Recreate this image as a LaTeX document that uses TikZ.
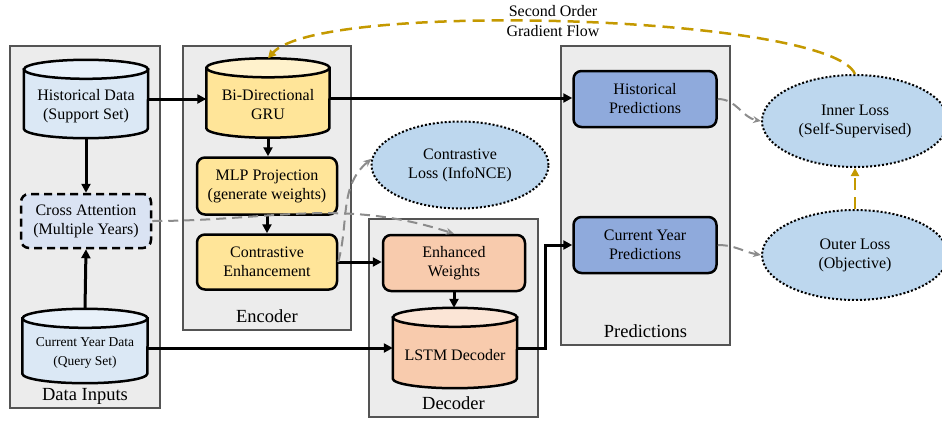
\documentclass[tikz,border=0pt]{standalone}
\usepackage{fontspec}
\setmainfont{Liberation Serif}
\usetikzlibrary{shapes.geometric,arrows.meta}
\definecolor{grpfill}{rgb}{0.925,0.925,0.925}
\definecolor{grpline}{rgb}{0.33,0.33,0.33}
\definecolor{histbody}{rgb}{0.86,0.91,0.96}
\definecolor{histtop}{rgb}{0.91,0.945,0.98}
\definecolor{crossfill}{rgb}{0.855,0.89,0.953}
\definecolor{encbody}{rgb}{1,0.9,0.6}
\definecolor{enctop}{rgb}{1,0.95,0.8}
\definecolor{decbody}{rgb}{0.973,0.796,0.678}
\definecolor{dectop}{rgb}{0.984,0.898,0.839}
\definecolor{predfill}{rgb}{0.561,0.667,0.863}
\definecolor{lossfill}{rgb}{0.741,0.843,0.933}
\definecolor{gradgold}{rgb}{0.77,0.6,0.0}
\definecolor{auxgray}{rgb}{0.55,0.55,0.55}

\begin{document}
\begin{tikzpicture}[x=1pt,y=-1pt]
  \newcommand{\txtsize}[0]{\fontsize{16}{19}\selectfont}
  \newcommand{\smallsize}[0]{\fontsize{13.5}{17}\selectfont}
  \tikzstyle{grpbox} = [draw=grpline,fill=grpfill,line width=2pt,inner sep=0pt]
  \tikzstyle{grplbl} = [font=\fontsize{18.5}{22}\selectfont,anchor=base]
  \tikzstyle{cylbox} = [rectangle,inner sep=0pt]
  \tikzstyle{cylline} = [draw=black,line width=2.5pt]
  \tikzstyle{cyltext} = [align=center,font=\txtsize,inner sep=0pt]
  \tikzstyle{procbox} = [rectangle,rounded corners=8pt,draw=black,line width=2.5pt,align=center,font=\txtsize,minimum width=141pt,minimum height=56pt,inner sep=0pt]
  \tikzstyle{lossell} = [ellipse,draw=black,dotted,line width=2pt,fill=lossfill,align=center,font=\txtsize,inner sep=0pt]
  \tikzstyle{flowedge} = [line width=3pt,->,>={Triangle[length=9pt,width=9pt]},draw=black]
  \tikzstyle{auxedge} = [line width=2pt,dash pattern=on 10pt off 6pt,->,>={Stealth[length=8pt,width=7pt]},draw=auxgray]
  \tikzstyle{gradedge} = [line width=2.5pt,dash pattern=on 12pt off 7pt,->,>={Triangle[length=8pt,width=8pt]},draw=gradgold]
  \newcommand{\dbcyl}[7]{
    \node[cylbox,minimum width=#3pt,minimum height=#4pt] (#1) at (#2) {};
    \draw[cylline,fill=#5] ([yshift=-9.5pt]#1.north west) -- ([yshift=9.5pt]#1.south west)
      arc[start angle=180,end angle=360,x radius=#3pt/2,y radius=9.5pt] -- ([yshift=-9.5pt]#1.north east) -- cycle;
    \draw[cylline,fill=#6] ([yshift=-9.5pt]#1.north) ellipse[x radius=#3pt/2,y radius=9.5pt];
    \node[cyltext] (#1txt) at ([yshift=-7pt]#1.center) {#7};
  }

  \useasboundingbox (0,0) rectangle (942,426);

  \node[grpbox,minimum width=150pt,minimum height=362pt] (inbox) at (85,227) {};
  \node[grpbox,minimum width=168pt,minimum height=284pt] (encbox) at (267,188) {};
  \node[grpbox,minimum width=169pt,minimum height=198pt] (decbox) at (453.5,318) {};
  \node[grpbox,minimum width=169pt,minimum height=299pt] (predbox) at (645.5,195.5) {};
  \node[grplbl] (inlbl) at ([yshift=9pt]inbox.south) {Data Inputs};
  \node[grplbl] (enclbl) at ([yshift=9pt]encbox.south) {Encoder};
  \node[grplbl] (declbl) at ([yshift=9pt]decbox.south) {Decoder};
  \node[grplbl] (predlbl) at ([yshift=9pt]predbox.south) {Predictions};

  \dbcyl{hist}{86,99}{124}{78}{histbody}{histtop}{Historical Data\\(Support Set)}
  \node[procbox,fill=crossfill,dash pattern=on 8pt off 5pt,minimum width=130pt,minimum height=54pt] (cross) at (86,221) {Cross Attention\\(Multiple Years)};
  \dbcyl{curr}{85,346}{125}{74}{histbody}{histtop}{\smallsize Current Year Data\\\smallsize (Query Set)}

  \dbcyl{gru}{268,98}{123}{79}{encbody}{enctop}{Bi-Directional\\GRU}
  \node[procbox,fill=encbody,minimum width=140pt,minimum height=57pt] (mlp) at (267,186) {MLP Projection\\(generate weights)};
  \node[procbox,fill=encbody,minimum width=140pt,minimum height=55pt] (cenh) at (267,262) {Contrastive\\Enhancement};

  \node[procbox,fill=decbody,minimum width=142pt] (enh) at (454,263) {Enhanced\\Weights};
  \dbcyl{lstm}{455,348}{124}{80}{decbody}{dectop}{LSTM Decoder}

  \node[procbox,fill=predfill,minimum width=143pt] (hpred) at (645,99) {Historical\\Predictions};
  \node[procbox,fill=predfill,minimum width=143pt] (cpred) at (645,245) {Current Year\\Predictions};

  \node[lossell,minimum width=177pt,minimum height=87pt] (closs) at (460,165) {Contrastive\\Loss (InfoNCE)};
  \node[lossell,minimum width=186pt,minimum height=92pt] (inner) at (855,121) {Inner Loss\\(Self-Supervised)};
  \node[lossell,minimum width=186pt,minimum height=90pt] (outer) at (855,255) {Outer Loss\\(Objective)};
  \node[font=\fontsize{16}{20}\selectfont,align=center] (gradlbl) at (553,21) {Second Order\\Gradient Flow};

  \draw[flowedge] (hist.south) -- (cross.north);
  \draw[flowedge] (curr.north) -- (cross.south);
  \draw[flowedge] (hist.east) -- (hist.east -| gru.west);
  \draw[flowedge] (gru.east) -- (gru.east -| hpred.west);
  \draw[flowedge] (gru.south) -- (gru.south |- mlp.north);
  \draw[flowedge] (mlp.south) -- (cenh.north);
  \draw[flowedge] (cenh.east) -- (cenh.east -| enh.west);
  \draw[flowedge] (enh.south) -- (enh.south |- lstm.north);
  \draw[flowedge] (lstm.west -| curr.east) -- (lstm.west);
  \draw[flowedge] (lstm.east) -- ([xshift=28pt]lstm.east) |- (cpred.west);
  \draw[auxedge] (cross.east) to[out=0,in=162] (enh.north);
  \draw[auxedge] (cenh.east) to[out=75,in=220] (closs.176);
  \draw[auxedge] (hpred.east) to[out=0,in=170] (inner.west);
  \draw[auxedge] (cpred.east) to[out=0,in=170] (outer.west);
  \draw[gradedge] (outer.north) -- (inner.south);
  \draw[gradedge] (inner.north) .. controls (830,15) and (320,0) .. (gru.north);
\end{tikzpicture}
\end{document}
